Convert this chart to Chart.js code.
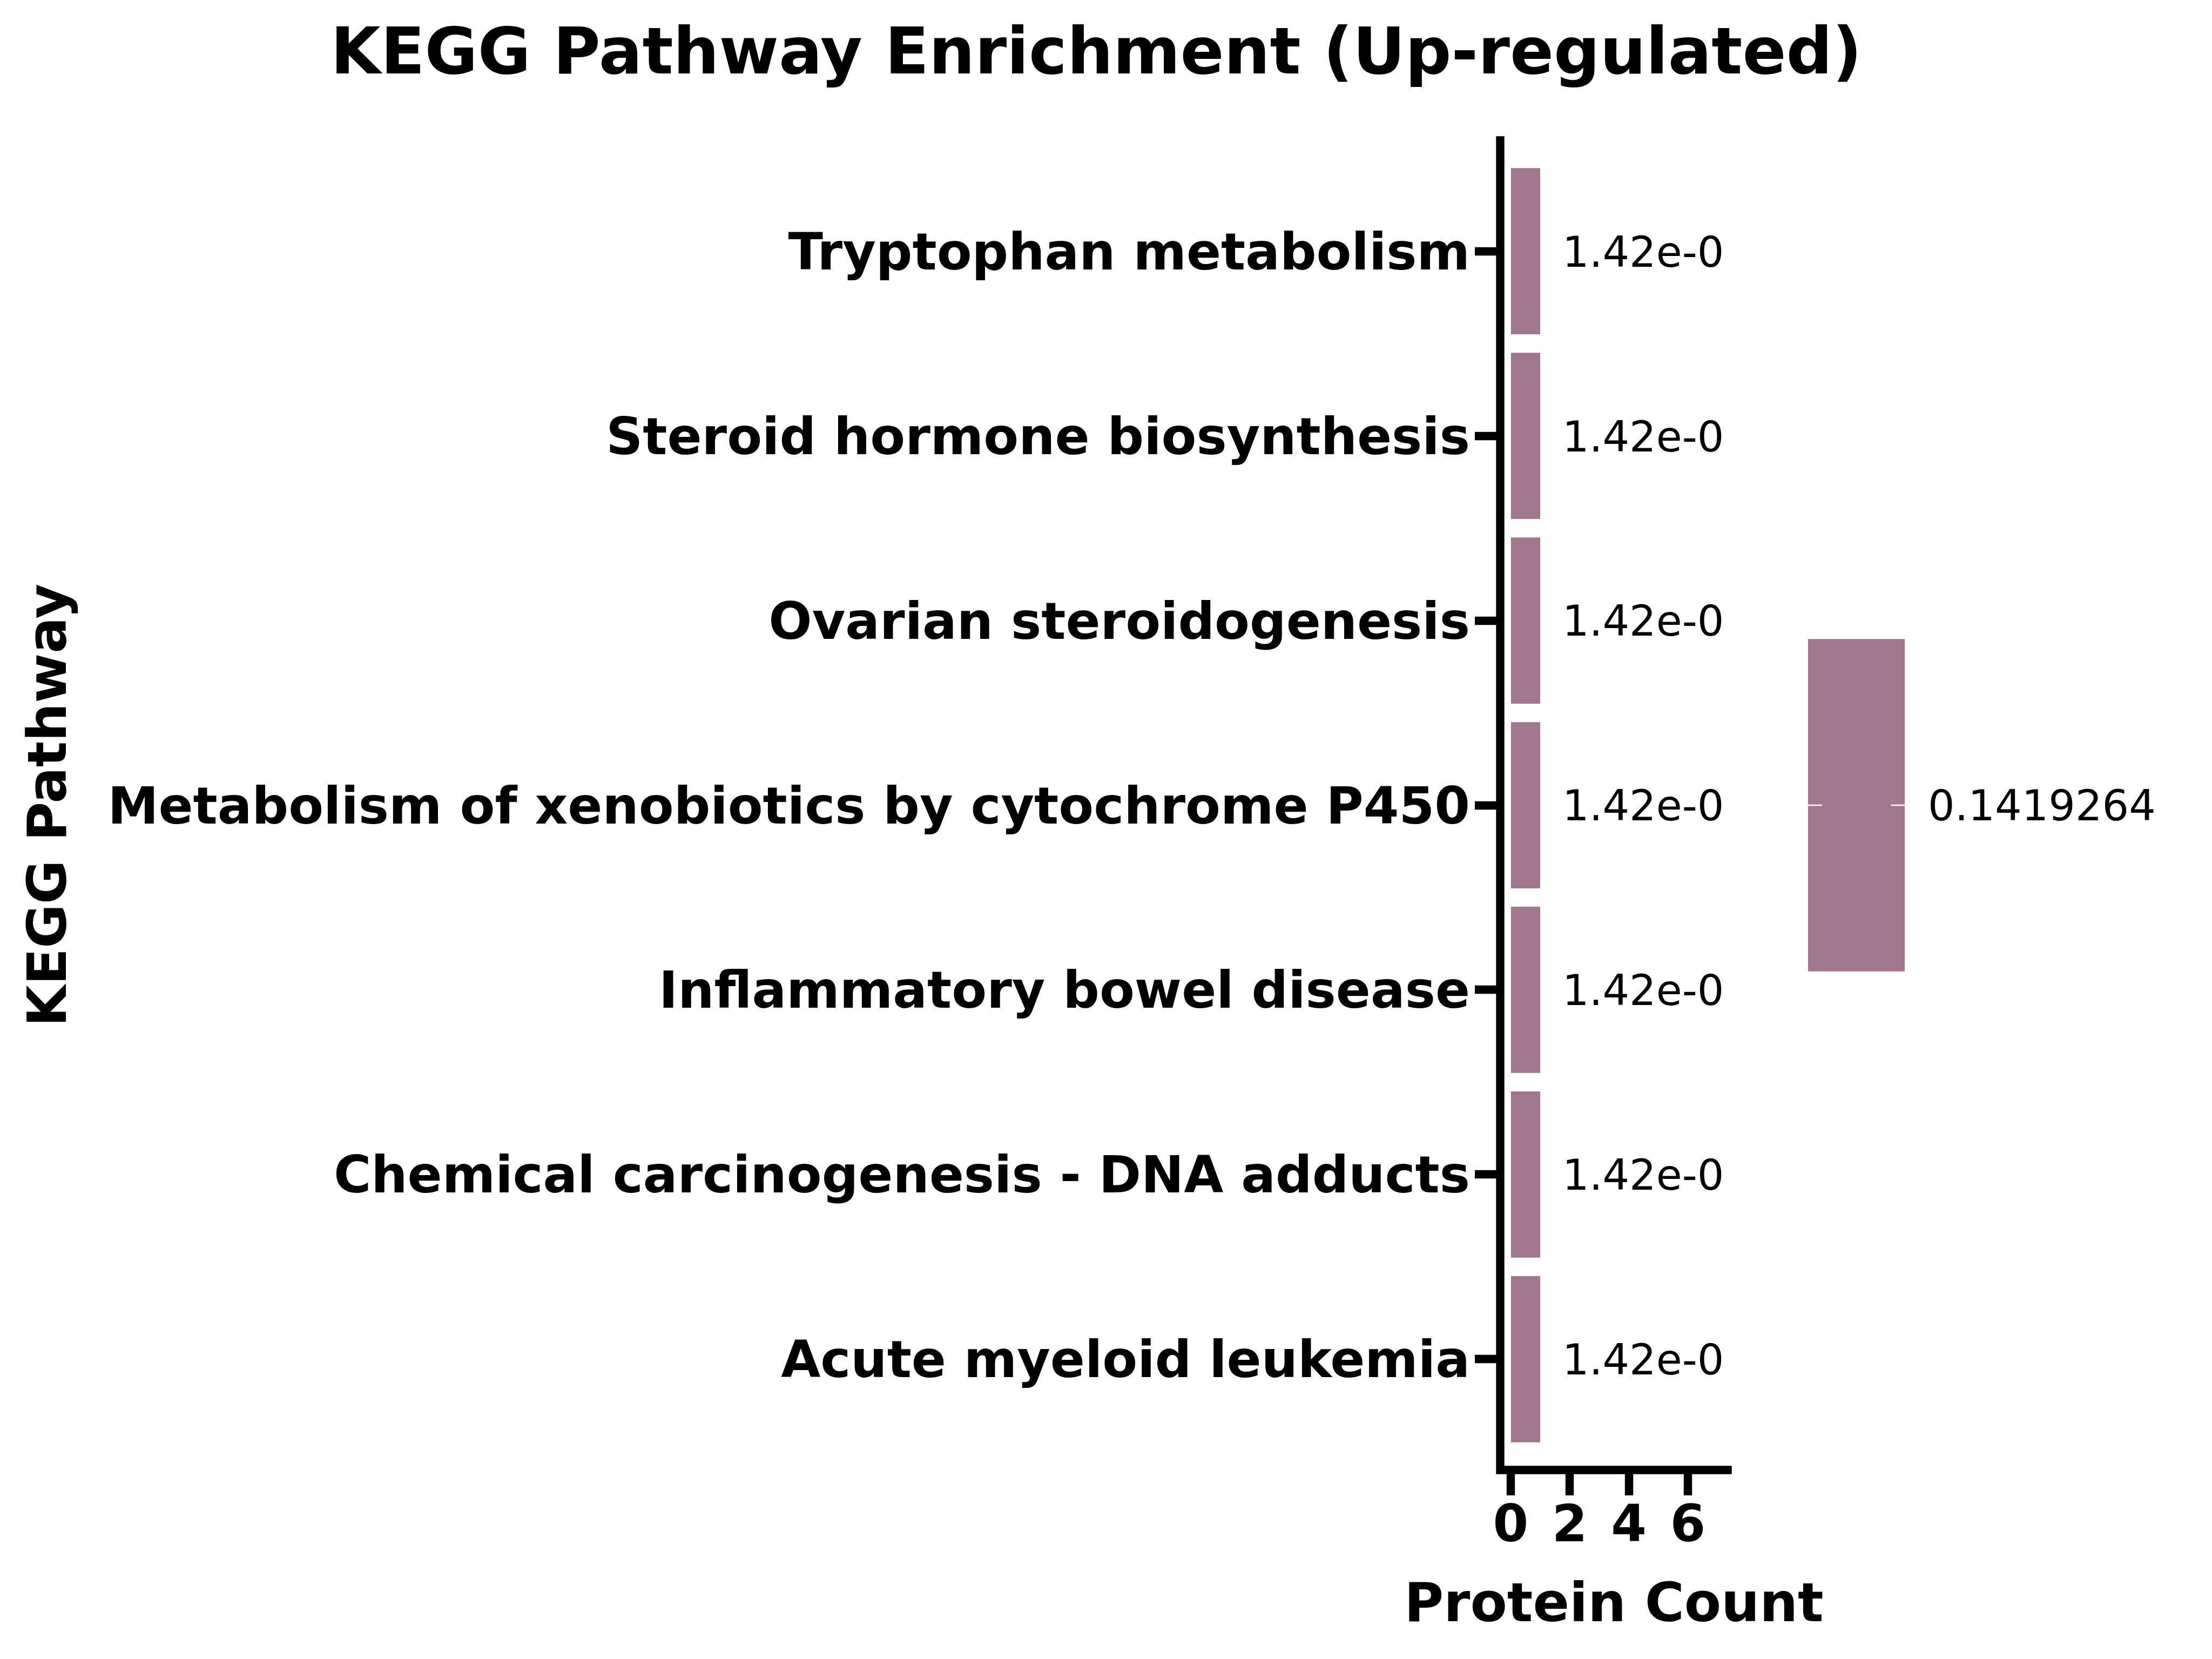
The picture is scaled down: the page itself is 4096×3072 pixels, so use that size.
<!DOCTYPE html>
<html>
<head>
<meta charset="utf-8">
<script src="https://cdn.jsdelivr.net/npm/chart.js@4.4.0/dist/chart.umd.min.js"></script>
<style>
html,body{margin:0;padding:0;background:#ffffff;}
canvas{display:block;}
</style>
</head>
<body>
<canvas id="c" width="4096" height="3072"></canvas>
<script>
// ---- data ----
const categories = [
  "Tryptophan metabolism",
  "Steroid hormone biosynthesis",
  "Ovarian steroidogenesis",
  "Metabolism of xenobiotics by cytochrome P450",
  "Inflammatory bowel disease",
  "Chemical carcinogenesis - DNA adducts",
  "Acute myeloid leukemia"
];
const proteinCounts = [1, 1, 1, 1, 1, 1, 1];
const pValues = [0.1419264, 0.1419264, 0.1419264, 0.1419264, 0.1419264, 0.1419264, 0.1419264];
const xTickValues = [0, 2, 4, 6];
const colorbarTickValues = [0.1419264];
const titleText = "KEGG Pathway Enrichment (Up-regulated)";
const xAxisTitle = "Protein Count";
const yAxisTitle = "KEGG Pathway";

// ---- style ----
const FONT = "'DejaVu Sans', 'Liberation Sans', sans-serif";
const BAR_COLOR = "#A2768F";
const W = 4096, H = 3072;
const AREA = { left: 2778, top: 260, right: 3199, bottom: 2722 };
const SPINE_W = 15.4;

function sci(v) {
  // matplotlib-like "%.2e": two-digit exponent
  const s = v.toExponential(2);
  const m = s.match(/^(.*)e([+-])(\d+)$/);
  if (!m) return s;
  return m[1] + 'e' + m[2] + (m[3].length < 2 ? '0' + m[3] : m[3]);
}

const overlayPlugin = {
  id: 'overlay',
  afterDatasetsDraw(chart) {
    const ctx = chart.ctx;
    const ca = chart.chartArea;
    const xs = chart.scales.x, ys = chart.scales.y;
    // bar value labels, clipped to plot area
    ctx.save();
    ctx.beginPath();
    ctx.rect(ca.left, ca.top - 200, ca.right - ca.left + 2, ca.bottom - ca.top + 400);
    ctx.clip();
    ctx.fillStyle = '#000';
    ctx.font = `normal 78px ${FONT}`;
    ctx.textAlign = 'left';
    ctx.textBaseline = 'alphabetic';
    categories.forEach((c, i) => {
      const x = xs.getPixelForValue(proteinCounts[i]) + 41;
      const y = ys.getPixelForValue(i) + 0.729 * 78 / 2;
      ctx.fillText(sci(pValues[i]), x, y);
    });
    ctx.restore();
  },
  afterDraw(chart) {
    const ctx = chart.ctx;
    const ca = chart.chartArea;
    ctx.save();
    // spines
    ctx.strokeStyle = '#000';
    ctx.lineWidth = SPINE_W;
    ctx.lineCap = 'square';
    ctx.beginPath();
    ctx.moveTo(ca.left, ca.top);
    ctx.lineTo(ca.left, ca.bottom);
    ctx.lineTo(ca.right, ca.bottom);
    ctx.stroke();

    // title
    ctx.fillStyle = '#000';
    ctx.textAlign = 'center';
    ctx.textBaseline = 'alphabetic';
    ctx.font = `bold 119.5px ${FONT}`;
    ctx.fillText(titleText, 2030, 136);

    // x axis title
    ctx.font = `bold 99.6px ${FONT}`;
    ctx.fillText(xAxisTitle, (ca.left + ca.right) / 2, 3002);

    // y axis title
    ctx.save();
    ctx.translate(122, (ca.top + ca.bottom) / 2);
    ctx.rotate(-Math.PI / 2);
    ctx.fillText(yAxisTitle, 0, 0);
    ctx.restore();

    // colorbar
    const cbLeft = ca.right + 149;
    const cbW = 179;
    const cbH = (ca.bottom - ca.top) * 0.25;
    const cbTop = (ca.top + ca.bottom) / 2 - cbH / 2;
    ctx.fillStyle = BAR_COLOR;
    ctx.fillRect(cbLeft, cbTop, cbW, cbH);
    ctx.strokeStyle = '#ffffff';
    ctx.lineWidth = 2.5;
    ctx.lineCap = 'butt';
    colorbarTickValues.forEach(v => {
      const ty = cbTop + cbH / 2;
      ctx.beginPath();
      ctx.moveTo(cbLeft, ty); ctx.lineTo(cbLeft + 25.6, ty);
      ctx.moveTo(cbLeft + cbW, ty); ctx.lineTo(cbLeft + cbW - 25.6, ty);
      ctx.stroke();
      ctx.fillStyle = '#000';
      ctx.font = `normal 78px ${FONT}`;
      ctx.textAlign = 'left';
      ctx.fillText(String(v), cbLeft + cbW + 43, ty + 0.729 * 78 / 2);
    });
    ctx.restore();
  }
};

new Chart(document.getElementById('c'), {
  type: 'bar',
  data: {
    datasets: [{
      data: categories.map((c, i) => ({ x: proteinCounts[i], y: i })),
      backgroundColor: BAR_COLOR,
      borderWidth: 0,
      barPercentage: 0.9,
      categoryPercentage: 1.0
    }]
  },
  options: {
    indexAxis: 'y',
    responsive: false,
    animation: false,
    devicePixelRatio: 1,
    layout: { padding: { top: AREA.top, right: W - AREA.right, bottom: 0, left: 0 } },
    plugins: { legend: { display: false }, tooltip: { enabled: false }, title: { display: false } },
    scales: {
      y: {
        type: 'linear',
        position: 'left',
        reverse: true,
        offset: false,
        min: -0.6,
        max: 6.6,
        afterFit: s => { s.width = AREA.left; },
        afterBuildTicks: s => { s.ticks = categories.map((c, i) => ({ value: i })); },
        ticks: {
          callback: v => categories[v],
          autoSkip: false,
          color: '#000',
          padding: 9,
          labelOffset: 9,
          font: { family: FONT, size: 94.5, weight: 'bold' }
        },
        grid: { offset: false, drawOnChartArea: false, drawTicks: true, tickLength: 47, tickWidth: SPINE_W, tickColor: '#000' },
        border: { display: false }
      },
      x: {
        type: 'linear',
        position: 'bottom',
        offset: false,
        min: -0.353,
        max: 7.344,
        afterFit: s => { s.height = H - AREA.bottom; },
        afterBuildTicks: s => { s.ticks = xTickValues.map(v => ({ value: v })); },
        ticks: {
          autoSkip: false,
          maxRotation: 0,
          color: '#000',
          padding: 4,
          font: { family: FONT, size: 94.5, weight: 'bold' }
        },
        grid: { offset: false, drawOnChartArea: false, drawTicks: true, tickLength: 47, tickWidth: SPINE_W, tickColor: '#000' },
        border: { display: false }
      }
    }
  },
  plugins: [overlayPlugin]
});
</script>
</body>
</html>
